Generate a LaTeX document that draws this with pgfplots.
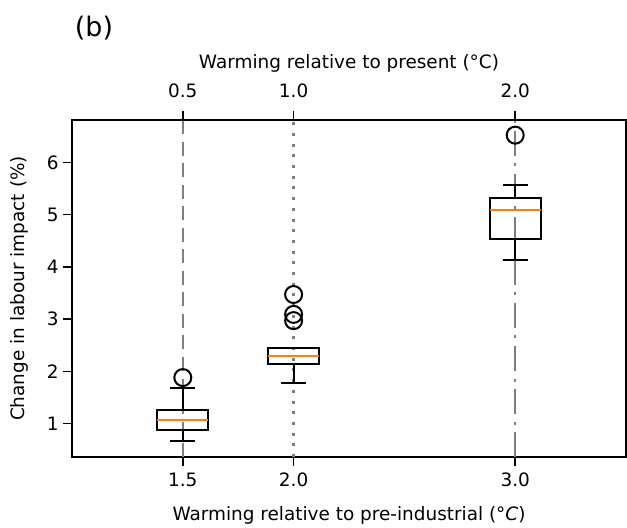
\documentclass[border=0pt]{standalone}
\usepackage{fontspec}
\setmainfont{DejaVu Sans}
\usepackage{pgfplots}
\usepgfplotslibrary{statistics}
\pgfplotsset{compat=1.18}
\definecolor{mplorange}{HTML}{FF7F0E}
\definecolor{vgray}{HTML}{7F7F7F}
\begin{document}
\begin{tikzpicture}
\pgfplotsset{
  common/.style={
    scale only axis, width=554bp, height=337bp,
    xmin=1, xmax=3.5, ymin=0.36, ymax=6.81,
    axis line style={line width=1.5bp},
    tick style={line width=1.5bp, black},
    tick align=outside, major tick length=9bp,
    /pgf/number format/assume math mode=true,
    tick label style={font=\fontsize{18.5}{22}\selectfont},
    label style={font=\fontsize{18.5}{22}\selectfont},
    clip=false,
  }
}
\begin{axis}[common,
  xtick={1.5,2,3}, xticklabels={1.5,2.0,3.0}, xtick pos=lower,
  ytick={1,2,3,4,5,6}, ytick pos=left,
  xticklabel style={anchor=base, yshift=-20bp},
  yticklabel style={anchor=east, xshift=-1bp},
  xlabel={Warming relative to pre-industrial (°\textit{C})},
  xlabel style={at={(axis description cs:0.5,-0.1899)}, anchor=base},
  ylabel={Change in labour impact (\%)},
  ylabel style={at={(axis description cs:-0.0957,0.5)}, anchor=center},
  cycle list={{black, mark=none}},
  boxplot/draw direction=y,
  boxplot/every median/.style={draw=mplorange, line width=2bp},
]
\coordinate (SW) at (rel axis cs:0,0);
% vertical reference lines
\addplot[vgray, line width=2.5bp, dash pattern=on 14bp off 7.5bp] coordinates {(1.5,0.36) (1.5,6.81)};
\addplot[vgray, line width=2.5bp, dash pattern=on 3bp off 7.7bp] coordinates {(2.0,0.36) (2.0,6.81)};
\addplot[vgray, line width=2.5bp, dash pattern=on 25bp off 7.5bp on 3bp off 7.5bp] coordinates {(3.0,0.36) (3.0,6.81)};
% boxes
\addplot+[line width=2bp,
  boxplot prepared={draw position=1.5, lower whisker=0.67, lower quartile=0.88,
    median=1.07, upper quartile=1.26, upper whisker=1.68,
    box extend=0.23, whisker extend=0.113}]
  coordinates {};
\addplot+[line width=2bp,
  boxplot prepared={draw position=2.0, lower whisker=1.77, lower quartile=2.14,
    median=2.29, upper quartile=2.44, upper whisker=2.45,
    box extend=0.23, whisker extend=0.113}]
  coordinates {};
\addplot+[line width=2bp,
  boxplot prepared={draw position=3.0, lower whisker=4.13, lower quartile=4.53,
    median=5.09, upper quartile=5.31, upper whisker=5.56,
    box extend=0.23, whisker extend=0.113}]
  coordinates {};
% outliers
\addplot[only marks, mark=o, mark size=8.5bp, line width=2bp, draw=black, fill=none]
  coordinates {(1.5,1.88) (2.0,3.47) (2.0,3.09) (2.0,2.97) (3.0,6.52)};
\node[anchor=base, font=\fontsize{27}{30}\selectfont] at (axis description cs:0.0397,1.2463) {(b)};
\end{axis}
\begin{axis}[common,
  axis x line*=top, hide y axis,
  xtick={1.5,2,3}, xticklabels={0.5,1.0,2.0},
  xticklabel style={anchor=base, yshift=13bp},
  xlabel={Warming relative to present (°C)},
  xlabel style={at={(axis description cs:0.5,1.1513)}, anchor=base},
]
\end{axis}
\pgfresetboundingbox
\path (SW) ++(-72bp,-71bp) rectangle ++(627bp,528bp);
\end{tikzpicture}
\end{document}
